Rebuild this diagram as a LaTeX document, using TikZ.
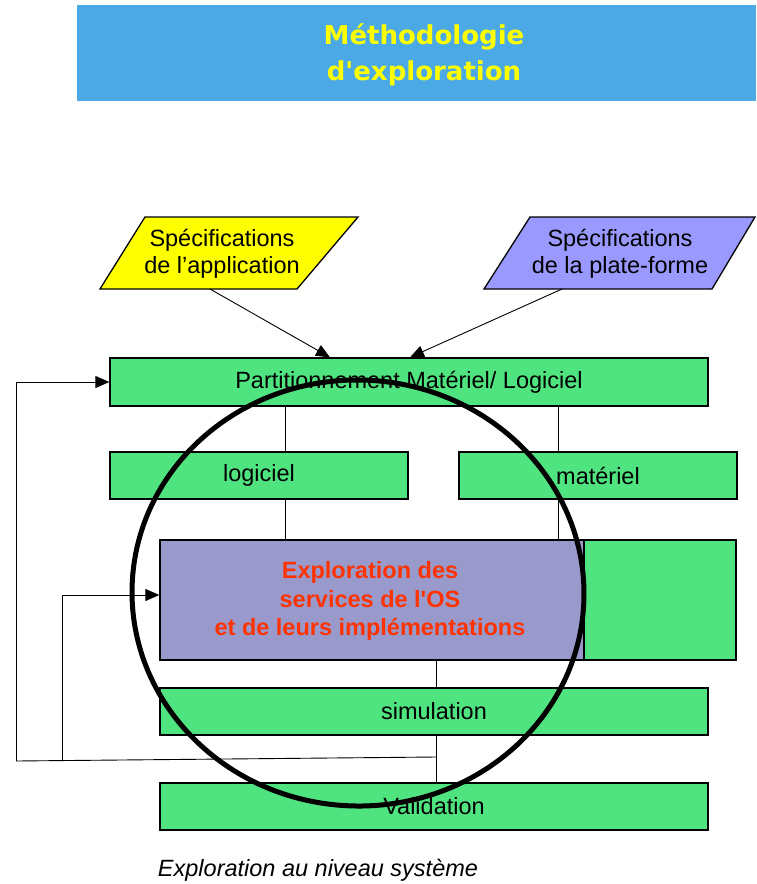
\documentclass[tikz,border=0pt]{standalone}
\usepackage{fontspec}
\setmainfont{Liberation Sans}[Ligatures=TeXOff]
\newfontfamily\titlefont{DejaVu Sans}
\usetikzlibrary{arrows.meta,shapes.geometric}
\definecolor{titlebg}{RGB}{75,170,230}
\definecolor{titletxt}{RGB}{255,255,0}
\definecolor{boxgreen}{RGB}{80,228,128}
\definecolor{specyellow}{RGB}{255,255,0}
\definecolor{specblue}{RGB}{153,153,255}
\definecolor{explbg}{RGB}{153,153,204}
\definecolor{expltxt}{RGB}{255,51,0}
\begin{document}
\begin{tikzpicture}[x=1pt,y=-1pt,
  box/.style={draw=black, line width=1.3pt, fill=boxgreen, inner sep=0pt},
  conn/.style={draw=black, line width=0.9pt},
  arr/.style={conn, -{Triangle[length=14pt,width=12pt]}},
  lbl/.style={font=\fontsize{23.5}{27}\selectfont, align=center, inner sep=0pt},
  spec/.style={draw=black, line width=1.3pt}]
\useasboundingbox (0,0) rectangle (756,884);
% title
\node[fill=titlebg, minimum width=679pt, minimum height=96pt, inner sep=0pt] (title) at (416.5,53) {};
\node[font=\titlefont\bfseries\fontsize{26}{36}\selectfont, text=titletxt, align=center, inner sep=0pt] (titletext) at (424,55) {Méthodologie\\d'exploration};
% specifications
\filldraw[spec, fill=specyellow] (145,217) -- (358,217) -- (297,289) -- (100,289) -- cycle;
\node[lbl] (specapp) at (222,254) {Spécifications\\de l’application};
\filldraw[spec, fill=specblue] (530,217) -- (755,217) -- (712,289) -- (484,289) -- cycle;
\node[lbl] (specplat) at (620,254) {Spécifications\\de la plate-forme};
\coordinate (ya) at (210,289);
\coordinate (ba) at (562,289);
% boxes
\node[box, minimum width=598pt, minimum height=48pt] (part) at (409,382) {};
\node[lbl] (parttext) at (part) {Partitionnement Matériel/ Logiciel};
\node[box, minimum width=298pt, minimum height=47pt] (logi) at (259,475.5) {};
\node[lbl] (logitext) at (logi) {logiciel};
\node[box, minimum width=278pt, minimum height=47pt] (mat) at (598,475.5) {};
\node[lbl] (mattext) at (mat) {matériel};
\node[box, minimum width=152pt, minimum height=120pt] (matbox) at (660,600) {};
\node[box, fill=explbg, minimum width=424pt, minimum height=120pt] (expl) at (372,600) {};
\node[lbl, font=\bfseries\fontsize{23.5}{28.5}\selectfont, text=expltxt] (expltext) at (370,601) {Exploration des\\services de l'OS\\et de leurs implémentations};
\node[box, minimum width=548pt, minimum height=47pt] (sim) at (434,711.5) {};
\node[lbl] (simtext) at (sim) {simulation};
\node[box, minimum width=548pt, minimum height=47pt] (vali) at (434,806.5) {};
\node[lbl] (valitext) at (vali) {Validation};
% vertical positions
\coordinate (xa) at (285,0);
\coordinate (xb) at (558,0);
\coordinate (xc) at (436,0);
\coordinate (xp1) at (330,0);
\coordinate (xp2) at (410,0);
\coordinate (explin) at ([yshift=5pt]expl.west);
% connectors
\draw[arr] (ya) -- (part.north -| xp1);
\draw[arr] (ba) -- (part.north -| xp2);
\draw[conn] (part.south -| xa) -- (logi.north -| xa);
\draw[conn] (part.south -| xb) -- (mat.north -| xb);
\draw[conn] (logi.south -| xa) -- (expl.north -| xa);
\draw[conn] (mat.south -| xb) -- (expl.north -| xb);
\draw[conn] (expl.south -| xc) -- (sim.north -| xc);
\draw[conn] (sim.south -| xc) -- (vali.north -| xc);
% feedback
\coordinate (fb) at (436,757);
\coordinate (fl) at (16,761);
\coordinate (fm) at (62,760);
\draw[conn] (fb) -- (fl);
\draw[arr] (fl) -- (fl |- part.west) -- (part.west);
\draw[arr] (fm) -- (fm |- explin) -- (explin);
% focus ellipse
\node[draw=black, line width=5pt, ellipse, minimum width=452pt, minimum height=426pt, inner sep=0pt, rotate=-2] (focus) at (358,593) {};
% caption
\node[lbl, font=\itshape\fontsize{23.5}{27}\selectfont] (caption) at (318,870) {Exploration au niveau système};
\end{tikzpicture}
\end{document}
